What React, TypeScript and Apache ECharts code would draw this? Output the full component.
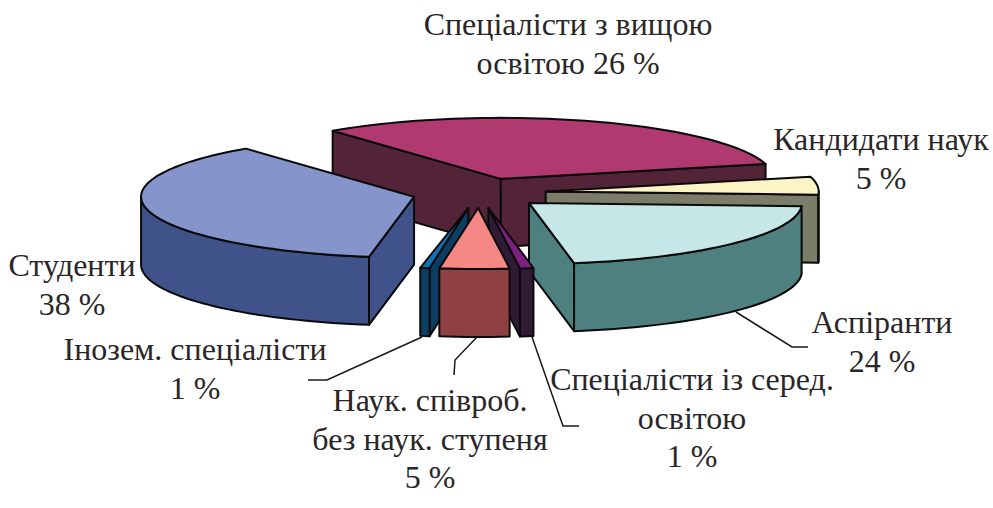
import React, { useEffect, useRef } from "react";
import * as echarts from "echarts";

// Data, clockwise from the front edge of the "Студенти" slice
const sliceNames = [
  "Студенти",
  "Спеціалісти з вищою освітою",
  "Кандидати наук",
  "Аспіранти",
  "Спеціалісти із серед. освітою",
  "Наук. співроб. без наук. ступеня",
  "Інозем. спеціалісти",
];
const sliceValues = [38, 26, 5, 24, 1, 5, 1];
const topColors = ["#8594CB", "#B0396F", "#FBF4C4", "#C6E7E8", "#7D2080", "#F58785", "#0A74B8"];
const sideColors = ["#40528A", "#532437", "#7C7D69", "#4E8080", "#2F1B33", "#8F4043", "#0C3D63"];
// Painter's order, back to front (indices into the arrays above)
const paintOrder = [1, 2, 0, 3, 6, 4, 5];

const labelLines = [
  ["Студенти", "38 %"],
  ["Спеціалісти з вищою", "освітою 26 %"],
  ["Кандидати наук", "5 %"],
  ["Аспіранти", "24 %"],
  ["Спеціалісти із серед.", "освітою", "1 %"],
  ["Наук. співроб.", "без наук. ступеня", "5 %"],
  ["Інозем. спеціалісти", "1 %"],
];
const labelCentres = [
  [72, 265],
  [568, 24],
  [881, 139],
  [882, 322],
  [692, 379],
  [430, 400],
  [195, 349],
];
const labelLineHeight = 38.5;
const leaderLines = [
  [[736, 312], [792, 347], [808, 347]],
  [[422, 337], [327, 380], [308, 380]],
  [[477, 337], [455, 360], [454, 375]],
  [[532, 337], [563, 426], [579, 426]],
];

// Pie geometry (3-D view of an exploded pie)
const CX = 479;
const CY = 193;
const RX = 273;
const RY = 61;
const DEPTH = 68;
const EXPLODE = 67;
const START_DEG = 99.5;

const rad = (d: number) => (d * Math.PI) / 180;

// The view's perspective stretches parts of the pie: maps a share's angle to the drawn angle
function viewAngle(t: number) {
  const r = rad(t);
  const warp =
    1.64 -
    5.54 * Math.cos(r) -
    15.7 * Math.sin(r) +
    3.9 * Math.cos(2 * r) -
    0.52 * Math.sin(2 * r) +
    1.3 * Math.exp(-Math.pow((t - 355) / 6, 2));
  return START_DEG + t + warp;
}

const total = sliceValues.reduce((a, b) => a + b, 0);
const sweeps = sliceValues.map((_, i) => {
  const before = sliceValues.slice(0, i).reduce((a, b) => a + b, 0);
  return [
    viewAngle((before / total) * 360),
    viewAngle(((before + sliceValues[i]) / total) * 360),
  ];
});

function renderSlice(params: any) {
  const i = paintOrder[params.dataIndex];
  const [a, b] = sweeps[i];
  const mid = rad((a + b) / 2);
  const ax = CX + EXPLODE * Math.cos(mid);
  const ay = CY + (EXPLODE * Math.sin(mid) * RY) / RX;
  const rim = (d: number): [number, number] => [
    ax + RX * Math.cos(rad(d)),
    ay + RY * Math.sin(rad(d)),
  ];
  const border = { stroke: "#0a0a0a", lineWidth: 2, lineJoin: "round" };
  const side = { fill: sideColors[i], ...border };
  const children: any[] = [];

  const radial = (d: number) => {
    const p = rim(d);
    children.push({
      type: "polygon",
      shape: { points: [[ax, ay], p, [p[0], p[1] + DEPTH], [ax, ay + DEPTH]] },
      style: side,
    });
  };
  if (Math.cos(rad(a)) < 0) radial(a);
  if (Math.cos(rad(b)) > 0) radial(b);

  // Outer wall: only the part of the rim that faces the viewer
  for (const turn of [0, 360]) {
    const lo = Math.max(a, turn);
    const hi = Math.min(b, turn + 180);
    if (hi > lo) {
      const pts: [number, number][] = [];
      const n = Math.max(2, Math.ceil((hi - lo) / 2));
      for (let k = 0; k <= n; k++) pts.push(rim(lo + ((hi - lo) * k) / n));
      const low = pts.map(([x, y]) => [x, y + DEPTH]).reverse();
      children.push({
        type: "polygon",
        shape: { points: [...pts, ...low] },
        style: side,
      });
    }
  }

  const top: [number, number][] = [[ax, ay]];
  const n = Math.max(2, Math.ceil((b - a) / 2));
  for (let k = 0; k <= n; k++) top.push(rim(a + ((b - a) * k) / n));
  children.push({
    type: "polygon",
    shape: { points: top },
    style: { fill: topColors[i], ...border },
  });

  return { type: "group", children };
}

const textElements = labelLines.flatMap((lines, i) =>
  lines.map((line, k) => ({
    type: "text",
    x: labelCentres[i][0],
    y: labelCentres[i][1] + k * labelLineHeight,
    silent: true,
    style: {
      text: line,
      fill: "#2a2627",
      font: '32px "Liberation Serif"',
      textAlign: "center",
      textVerticalAlign: "middle",
    },
  }))
);

const leaderElements = leaderLines.map((points) => ({
  type: "polyline",
  silent: true,
  shape: { points },
  style: { stroke: "#1a1a1a", lineWidth: 1.5, fill: "none" },
}));

export default function App() {
  const ref = useRef<HTMLDivElement>(null);
  useEffect(() => {
    const chart = echarts.init(ref.current!, undefined, { renderer: "svg" });
    chart.setOption({
      animation: false,
      backgroundColor: "#ffffff",
      series: [
        {
          type: "custom",
          coordinateSystem: "none",
          silent: true,
          renderItem: renderSlice,
          data: paintOrder.map((i) => ({ name: sliceNames[i], value: sliceValues[i] })),
        },
      ],
      graphic: { elements: [...leaderElements, ...textElements] },
    });
    return () => chart.dispose();
  }, []);
  return (
    <div
      ref={ref}
      style={{ position: "absolute", left: 0, top: 0, width: 993, height: 508 }}
    />
  );
}
